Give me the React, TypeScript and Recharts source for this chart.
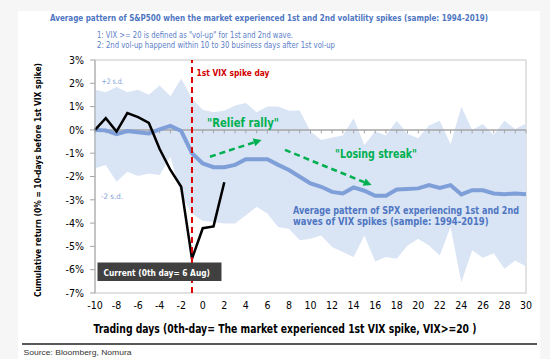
import {
  ComposedChart,
  Area,
  Line,
  XAxis,
  YAxis,
  ReferenceLine,
  ReferenceArea,
} from 'recharts';

// trading days relative to 1st VIX spike
const days = [
  -10, -9, -8, -7, -6, -5, -4, -3, -2, -1,
  0, 1, 2, 3, 4, 5, 6, 7, 8, 9,
  10, 11, 12, 13, 14, 15, 16, 17, 18, 19,
  20, 21, 22, 23, 24, 25, 26, 27, 28, 29, 30,
];

// average pattern (%)
const avgPattern = [
  0, -0.02, -0.18, -0.05, -0.1, -0.15, 0.02, 0.17, -0.05, -1.0,
  -1.44, -1.6, -1.6, -1.5, -1.26, -1.26, -1.26, -1.5, -1.72, -2.01,
  -2.3, -2.44, -2.66, -2.73, -2.47, -2.61, -2.83, -2.83, -2.56, -2.54,
  -2.51, -2.37, -2.49, -2.37, -2.77, -2.59, -2.59, -2.73, -2.76, -2.73, -2.76,
];

// +2 s.d. band edge (%)
const upperBand = [
  1.72, 1.62, 1.84, 1.62, 1.72, 1.51, 1.91, 1.44, 2.2, 1.35,
  0.86, 0.76, 0.82, 1.05, 1.15, 0.76, 1.0, 1.0, 0.82, 0.83,
  -0.07, -0.43, -0.33, -0.24, 0.5, -0.65, -0.07, -0.24, 0.39, -0.18,
  -0.36, 0.19, 0.39, -0.62, 1.0, 0, 0.25, -0.22, 0.39, 0.04, 0.28,
];

// -2 s.d. band edge (%)
const lowerBand = [
  -1.65, -1.51, -2.23, -1.8, -1.98, -1.87, -1.94, -1.15, -2.8, -3.6,
  -3.9, -3.95, -4.02, -4.02, -3.66, -3.3, -3.59, -4.17, -4.24, -4.74,
  -4.67, -4.53, -5.03, -5.24, -5.46, -4.53, -5.65, -5.46, -5.53, -4.96,
  -4.67, -4.96, -5.39, -4.17, -6.54, -5.17, -5.49, -5.29, -5.96, -5.6, -5.86,
];

// current episode, day -10 to day 2 (%)
const current = [0, 0.5, -0.07, 0.72, 0.55, 0.3, -0.82, -1.72, -2.44, -5.53, -4.22, -4.14, -2.25];

const xTicks = [-10, -8, -6, -4, -2, 0, 2, 4, 6, 8, 10, 12, 14, 16, 18, 20, 22, 24, 26, 28, 30];
const yTicks = [3, 2, 1, 0, -1, -2, -3, -4, -5, -6, -7];

const chartData = days.map((day, i) => ({
  day,
  avg: avgPattern[i],
  band: [lowerBand[i], upperBand[i]],
  current: i < current.length ? current[i] : null,
}));

const FONT = '"DejaVu Sans Condensed", "DejaVu Sans", sans-serif';
const GREEN = '#00b050';
const BLUE_TXT = '#4f76c2';

const Arrow = (props: any) => {
  const { x1, y1, x2, y2 } = props;
  const ang = Math.atan2(y2 - y1, x2 - x1);
  const len = 8;
  const w = 4;
  const bx = x2 - len * Math.cos(ang);
  const by = y2 - len * Math.sin(ang);
  const px = -Math.sin(ang) * w;
  const py = Math.cos(ang) * w;
  return (
    <g>
      <line x1={x1} y1={y1} x2={bx} y2={by} stroke={GREEN} strokeWidth={2.5} strokeDasharray="6 4" />
      <polygon points={`${x2},${y2} ${bx + px},${by + py} ${bx - px},${by - py}`} fill={GREEN} />
    </g>
  );
};

export default function App() {
  return (
    <div style={{ position: 'absolute', left: 0, top: 0, width: 550, height: 359, background: '#f6f6f6' }}>
      <div style={{ position: 'absolute', left: 18, top: 11, width: 522, height: 348, background: '#fff' }} />
      <div style={{ position: 'absolute', left: 0, top: 0 }}>
        <ComposedChart
          width={550}
          height={359}
          data={chartData}
          margin={{ top: 60, right: 24, bottom: 36, left: 0 }}
        >
          <XAxis
            dataKey="day"
            type="number"
            domain={[-10, 30]}
            ticks={xTicks}
            interval={0}
            axisLine={false}
            tickLine={false}
            tickSize={4}
            tickMargin={5}
            height={30}
            tick={{ fill: '#000', fontSize: 10.5, fontFamily: FONT }}
          />
          <YAxis
            type="number"
            domain={[-7, 3]}
            ticks={yTicks}
            interval={0}
            width={95}
            axisLine={{ stroke: '#a6a6a6' }}
            tickLine={{ stroke: '#a6a6a6' }}
            tickSize={5}
            tickMargin={6}
            tickFormatter={(v: number) => `${v}%`}
            tick={{ fill: '#000', fontSize: 10.5, fontFamily: FONT }}
          />
          <ReferenceArea x1={-10} x2={30} y1={-7} y2={3} fill="none" stroke="#d9d9d9" strokeWidth={1.5} />
          <Area
            dataKey="band"
            type="linear"
            stroke="none"
            fill="#d9e4f5"
            fillOpacity={1}
            isAnimationActive={false}
            dot={false}
            activeDot={false}
          />
          <ReferenceLine y={0} stroke="#a6a6a6" strokeWidth={1.5} />
          {days.map(d => (
            <ReferenceLine
              key={`t${d}`}
              segment={[{ x: d, y: 0 }, { x: d, y: -0.15 }]}
              stroke="#a6a6a6"
              strokeWidth={1}
            />
          ))}
          <Line
            dataKey="avg"
            type="linear"
            stroke="#7f9fd8"
            strokeWidth={4}
            dot={false}
            activeDot={false}
            isAnimationActive={false}
          />
          <Line
            dataKey="current"
            type="linear"
            stroke="#000"
            strokeWidth={2.5}
            dot={false}
            activeDot={false}
            connectNulls={false}
            isAnimationActive={false}
          />
          <ReferenceLine x={-1} stroke="#e00000" strokeWidth={2} strokeDasharray="6 4" />
          <ReferenceLine segment={[{ x: 0.67, y: -1.15 }, { x: 5.46, y: -0.43 }]} shape={Arrow} />
          <ReferenceLine segment={[{ x: 7.63, y: -0.86 }, { x: 15.67, y: -2.37 }]} shape={Arrow} />
        </ComposedChart>
      </div>

      <svg
        width={550}
        height={359}
        style={{ position: 'absolute', left: 0, top: 0, pointerEvents: 'none' }}
        fontFamily={FONT}
      >
        <text x={50} y={17.5} fontSize={9} fontWeight="bold" fill={BLUE_TXT} dominantBaseline="central" textLength={438} lengthAdjust="spacingAndGlyphs">
          Average pattern of S&amp;P500 when the market experienced 1st and 2nd volatility spikes  (sample: 1994-2019)
        </text>
        <text x={97} y={35} fontSize={8.5} fill="#5b80c8" dominantBaseline="central" textLength={196} lengthAdjust="spacingAndGlyphs">
          1: VIX &gt;= 20 is defined as "vol-up" for 1st and 2nd wave.
        </text>
        <text x={97} y={45} fontSize={8.5} fill="#5b80c8" dominantBaseline="central" textLength={238} lengthAdjust="spacingAndGlyphs">
          2: 2nd vol-up happend  within 10 to 30 business days after 1st vol-up
        </text>
        <text x={101.5} y={81} fontSize={7.5} fill="#7f9fd8" dominantBaseline="central" textLength={22} lengthAdjust="spacingAndGlyphs">
          +2 s.d.
        </text>
        <text x={101} y={196} fontSize={7.5} fill="#7f9fd8" dominantBaseline="central" textLength={22} lengthAdjust="spacingAndGlyphs">
          -2 s.d.
        </text>
        <text x={196.5} y={72} fontSize={9.5} fontWeight="bold" fill="#d00000" dominantBaseline="central" textLength={73} lengthAdjust="spacingAndGlyphs">
          1st VIX spike day
        </text>
        <text x={207} y={123} fontSize={12} fontWeight="bold" fill={GREEN} dominantBaseline="central" textLength={72} lengthAdjust="spacingAndGlyphs">
          "Relief rally"
        </text>
        <text x={335} y={153.5} fontSize={12} fontWeight="bold" fill={GREEN} dominantBaseline="central" textLength={82} lengthAdjust="spacingAndGlyphs">
          "Losing streak"
        </text>
        <text x={293} y={210} fontSize={10} fontWeight="bold" fill={BLUE_TXT} dominantBaseline="central" textLength={226} lengthAdjust="spacingAndGlyphs">
          Average pattern of SPX experiencing 1st and 2nd
        </text>
        <text x={293} y={221.5} fontSize={10} fontWeight="bold" fill={BLUE_TXT} dominantBaseline="central" textLength={195.5} lengthAdjust="spacingAndGlyphs">
          waves of  VIX spikes (sample: 1994-2019)
        </text>
        <rect x={97.5} y={262.5} width={124} height={18.5} fill="#404040" />
        <text x={103.5} y={272} fontSize={9.5} fontWeight="bold" fill="#fff" dominantBaseline="central" textLength={106.5} lengthAdjust="spacingAndGlyphs">
          Current (0th day= 6 Aug)
        </text>
        <text
          x={0}
          y={0}
          transform="translate(37,180) rotate(-90)"
          textAnchor="middle"
          fontSize={9.5}
          fontWeight="bold"
          fill="#000"
          dominantBaseline="central"
          textLength={234}
          lengthAdjust="spacingAndGlyphs"
        >
          Cumulative return (0% = 10-days before 1st VIX spike)
        </text>
        <text x={93.5} y={329} fontSize={11.5} fontWeight="bold" fill="#000" dominantBaseline="central" textLength={383} lengthAdjust="spacingAndGlyphs">
          Trading days (0th-day= The market experienced 1st VIX spike, VIX&gt;=20  )
        </text>
        <line x1={22} y1={344} x2={537} y2={344} stroke="#222" strokeWidth={1.5} />
        <text x={23.5} y={352.5} fontSize={8} fill="#333" fontFamily='"Liberation Sans", Arial, sans-serif' dominantBaseline="central" textLength={108} lengthAdjust="spacingAndGlyphs">
          Source: Bloomberg, Nomura
        </text>
      </svg>
    </div>
  );
}
